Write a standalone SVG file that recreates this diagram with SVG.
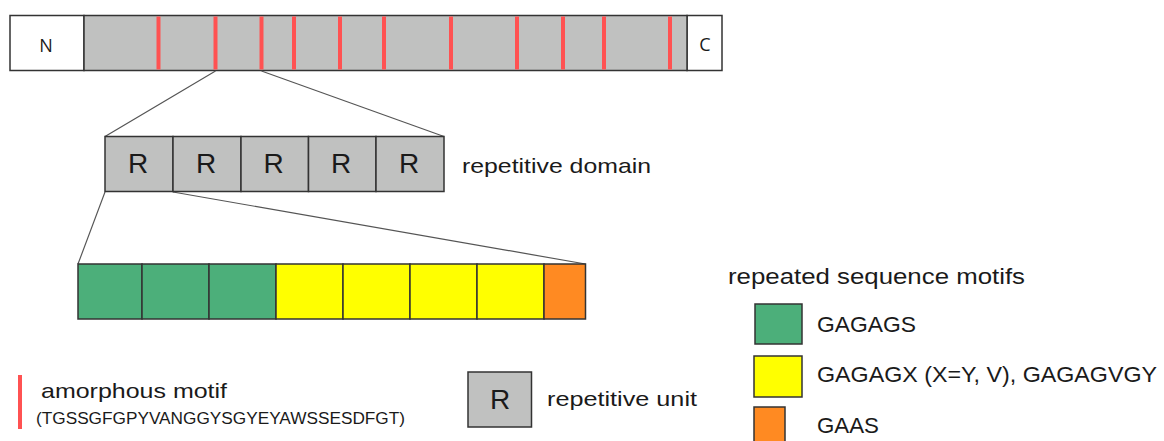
<svg xmlns="http://www.w3.org/2000/svg" width="1164" height="441" viewBox="0 0 1164 441">
<style>
.box{stroke:#333;stroke-width:1.5}
.g{fill:#c0c1c0}
.w{fill:#fff}
.gr{fill:#4caf7a}
.y{fill:#ffff00}
.o{fill:#ff8a22}
.red{stroke:#ff5252;stroke-width:4}
.ln{stroke:#555;stroke-width:1.2;fill:none}
.t{font-family:"Liberation Sans",Arial,sans-serif;fill:#1a1a1a}
.os{font-family:"Open Sans",sans-serif;fill:#1a1a1a}
</style>
<rect width="1164" height="441" fill="#fff"/>
<g id="protein">
<rect class="box w" x="10" y="15.5" width="74" height="55"/>
<rect class="box w" x="687" y="15.5" width="35" height="55"/>
<rect class="box g" x="84" y="15.5" width="603" height="55"/>
<g class="red">
<line x1="158.5" y1="16.5" x2="158.5" y2="69.5"/>
<line x1="215.5" y1="16.5" x2="215.5" y2="69.5"/>
<line x1="261.5" y1="16.5" x2="261.5" y2="69.5"/>
<line x1="294" y1="16.5" x2="294" y2="69.5"/>
<line x1="340" y1="16.5" x2="340" y2="69.5"/>
<line x1="384" y1="16.5" x2="384" y2="69.5"/>
<line x1="451" y1="16.5" x2="451" y2="69.5"/>
<line x1="517" y1="16.5" x2="517" y2="69.5"/>
<line x1="563" y1="16.5" x2="563" y2="69.5"/>
<line x1="604" y1="16.5" x2="604" y2="69.5"/>
<line x1="670" y1="16.5" x2="670" y2="69.5"/>
</g>
<text class="os" x="46" y="51.5" font-size="18" text-anchor="middle">N</text>
<text class="os" x="705" y="50.5" font-size="18" text-anchor="middle">C</text>
</g>
<g id="connectors">
<line class="ln" x1="215.5" y1="71" x2="105" y2="136.5"/>
<line class="ln" x1="261.5" y1="71" x2="444" y2="136.5"/>
<line class="ln" x1="105" y1="192" x2="78" y2="264"/>
<line class="ln" x1="173" y1="192" x2="585.5" y2="264"/>
</g>
<g id="repetitive-domain">
<rect class="box g" x="105" y="136.5" width="68" height="55"/>
<rect class="box g" x="173" y="136.5" width="68" height="55"/>
<rect class="box g" x="241" y="136.5" width="67.5" height="55"/>
<rect class="box g" x="308.5" y="136.5" width="67.5" height="55"/>
<rect class="box g" x="376" y="136.5" width="68" height="55"/>
<g class="t" font-size="28" text-anchor="middle">
<text x="138" y="173">R</text>
<text x="206" y="173">R</text>
<text x="273.5" y="173">R</text>
<text x="341" y="173">R</text>
<text x="409" y="173">R</text>
</g>
<text class="t" x="462" y="173" font-size="21" textLength="189" lengthAdjust="spacingAndGlyphs">repetitive domain</text>
</g>
<g id="repetitive-unit-detail">
<rect class="box gr" x="78" y="264" width="64" height="55"/>
<rect class="box gr" x="142" y="264" width="67" height="55"/>
<rect class="box gr" x="209" y="264" width="67" height="55"/>
<rect class="box y" x="276" y="264" width="67" height="55"/>
<rect class="box y" x="343" y="264" width="67" height="55"/>
<rect class="box y" x="410" y="264" width="67" height="55"/>
<rect class="box y" x="477" y="264" width="67" height="55"/>
<rect class="box o" x="544" y="264" width="41.5" height="55"/>
</g>
<g id="legend-motifs">
<text class="t" x="728" y="284" font-size="22" textLength="297" lengthAdjust="spacingAndGlyphs">repeated sequence motifs</text>
<rect class="box gr" x="755" y="304" width="47" height="40"/>
<text class="t" x="817" y="332" font-size="22" textLength="99" lengthAdjust="spacingAndGlyphs">GAGAGS</text>
<rect class="box y" x="754" y="356" width="48" height="41"/>
<text class="t" x="817" y="382" font-size="22" textLength="340" lengthAdjust="spacingAndGlyphs">GAGAGX (X=Y, V), GAGAGVGY</text>
<rect class="box o" x="754" y="407" width="31" height="40"/>
<text class="t" x="817" y="433" font-size="22" textLength="62" lengthAdjust="spacingAndGlyphs">GAAS</text>
</g>
<g id="legend-amorphous">
<line class="red" x1="20" y1="375" x2="20" y2="429"/>
<text class="t" x="41" y="398" font-size="21" textLength="186" lengthAdjust="spacingAndGlyphs">amorphous motif</text>
<text class="t" x="36" y="424" font-size="16" textLength="369" lengthAdjust="spacingAndGlyphs">(TGSSGFGPYVANGGYSGYEYAWSSESDFGT)</text>
</g>
<g id="legend-unit">
<rect class="box g" x="468" y="372" width="63.5" height="55"/>
<text class="t" x="500" y="409" font-size="28" text-anchor="middle">R</text>
<text class="t" x="547" y="406" font-size="21" textLength="150" lengthAdjust="spacingAndGlyphs">repetitive unit</text>
</g>
</svg>
